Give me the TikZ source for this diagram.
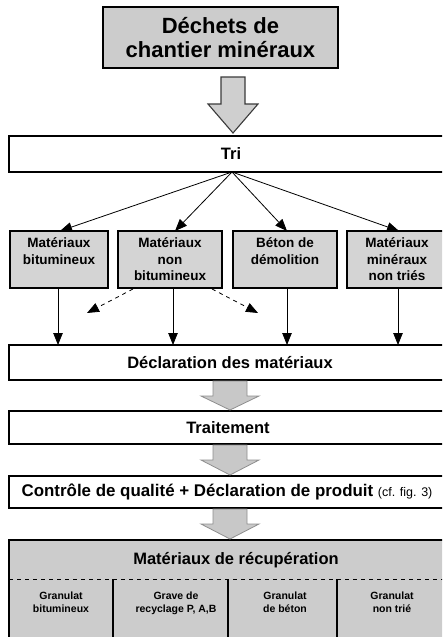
\documentclass[tikz,border=0pt]{standalone}
\usepackage{fontspec}
\setmainfont{Liberation Sans}
\usetikzlibrary{arrows.meta,calc}

\definecolor{titlegray}{HTML}{CCCCCC}
\definecolor{catgray}{HTML}{D4D4D4}
\definecolor{recupgray}{HTML}{CCCCCC}
\definecolor{flowfill}{HTML}{C8C8C8}
\definecolor{flowedge}{HTML}{8E8E8E}
\definecolor{firstfill}{HTML}{CFCFCF}
\definecolor{firstedge}{HTML}{3A3A3A}

\tikzset{
  pics/downblock/.style args={#1/#2/#3/#4}{code={
    \path[pic actions] (-#1,0) -- (#1,0) -- (#1,#3) -- (#2,#3) -- (0,#4)
      -- (-#2,#3) -- (-#1,#3) -- cycle;
  }}
}

\begin{document}
\begin{tikzpicture}[x=1pt,y=-1pt,
  every node/.style={inner sep=0pt, outer sep=0pt},
  titlebox/.style={draw=black, line width=2.4pt, fill=titlegray, anchor=north west,
    align=center, font=\fontsize{22}{24}\selectfont\bfseries},
  stagebox/.style={draw=black, line width=1.4pt, fill=white, anchor=north west,
    font=\fontsize{16.5}{19}\selectfont\bfseries},
  catbox/.style={draw=black, line width=1.4pt, fill=catgray, anchor=north west,
    minimum height=57pt},
  cattext/.style={anchor=north, align=center, font=\fontsize{13.5}{16.5}\selectfont\bfseries},
  subtext/.style={anchor=north, align=center, font=\fontsize{10.5}{12.5}\selectfont\bfseries},
  thinarrow/.style={line width=0.8pt, -{Triangle[length=12pt,width=9.5pt]}},
  dasharrow/.style={thinarrow, dash pattern=on 4pt off 4pt},
  firstarrow/.style={fill=firstfill, draw=firstedge, line width=1.1pt},
  flowarrow/.style={fill=flowfill, draw=flowedge, line width=0.8pt},
]
\useasboundingbox (0,0) rectangle (442,637);
\clip (0,0) rectangle (442,637);

% source material
\node[titlebox, minimum width=235pt, minimum height=61pt] (src) at (103,7)
  {Déchets de\\chantier minéraux};

% sorting
\node[stagebox, minimum width=444pt, minimum height=36pt] (tri) at (9,136) {Tri};

% sorted fractions
\node[catbox, minimum width=98pt]  (b1) at (10,231) {};
\node[catbox, minimum width=104pt] (b2) at (118,231) {};
\node[catbox, minimum width=104pt] (b3) at (233,231) {};
\node[catbox, minimum width=100pt] (b4) at (347,231) {};
\node[cattext] (t1) at ($(b1.north)+(0,7)$) {Matériaux\\bitumineux};
\node[cattext] (t2) at ($(b2.north)+(0,7)$) {Matériaux\\non\\bitumineux};
\node[cattext] (t3) at ($(b3.north)+(0,7)$) {Béton de\\démolition};
\node[cattext] (t4) at ($(b4.north)+(0,7)$) {Matériaux\\minéraux\\non triés};

% declaration, treatment, control
\node[stagebox, minimum width=442pt, minimum height=35pt] (decl) at (9,345)
  {Déclaration des matériaux};
\node[stagebox, minimum width=438pt, minimum height=33pt] (trait) at (9,411)
  {Traitement};
\node[stagebox, minimum width=436pt, minimum height=32pt,
  font=\fontsize{16.9}{19}\selectfont\bfseries] (ctrl) at (9,476)
  {Contrôle de qualité + Déclaration de produit {\mdseries\fontsize{12.5}{14}\selectfont (cf. fig. 3)}};

% recovered materials
\node[draw=black, line width=1.4pt, fill=recupgray, anchor=north west,
  minimum width=440pt, minimum height=120pt] (recup) at (9,540) {};
\node[font=\fontsize{16.5}{19}\selectfont\bfseries] (recuptitle) at (236,560)
  {Matériaux de récupération};
\draw[line width=0.8pt, dash pattern=on 4pt off 4pt] (9,579) -- (449,579);
\draw[line width=1.2pt] (113,579) -- (113,640) (228,579) -- (228,640) (337,579) -- (337,640);
\node[subtext] (g1) at (61,592)  {Granulat\\bitumineux};
\node[subtext] (g2) at (176,592) {Grave de\\recyclage P, A,B};
\node[subtext] (g3) at (285,592) {Granulat\\de béton};
\node[subtext] (g4) at (392,592) {Granulat\\non trié};

% block arrows between stages
\pic[firstarrow] at (233,77) {downblock=12/25/27/56};
\pic[flowarrow] at (230,381) {downblock=17/29/15/29};
\pic[flowarrow] at (230,445) {downblock=17/29/15/30};
\pic[flowarrow] at (230,509) {downblock=17/29/15/30};

% sorting connectors
\coordinate (fan) at (tri.south -| 232,0);
\draw[thinarrow] (fan) -- ($(b1.north)+(1,0)$);
\draw[thinarrow] (fan) -- ($(b2.north)+(5,0)$);
\draw[thinarrow] (fan) -- ($(b3.north)+(2,0)$);
\draw[thinarrow] (fan) -- ($(b4.north)+(2,0)$);

% fractions to declaration
\coordinate (v1) at ($(b1.south)+(-1,0)$);
\coordinate (v2) at ($(b2.south)+(3,0)$);
\coordinate (v3) at ($(b3.south)+(2,0)$);
\coordinate (v4) at ($(b4.south)+(1,0)$);
\foreach \v in {v1,v2,v3,v4}
  \draw[thinarrow] (\v) -- (\v |- decl.north);

% optional redistribution of non-bituminous material
\coordinate (dl) at (87,313);
\coordinate (dr) at (258,313);
\draw[dasharrow] ($(b2.south west)+(15,1)$) -- (dl);
\draw[dasharrow] ($(b2.south east)+(-10,1)$) -- (dr);
\end{tikzpicture}
\end{document}
